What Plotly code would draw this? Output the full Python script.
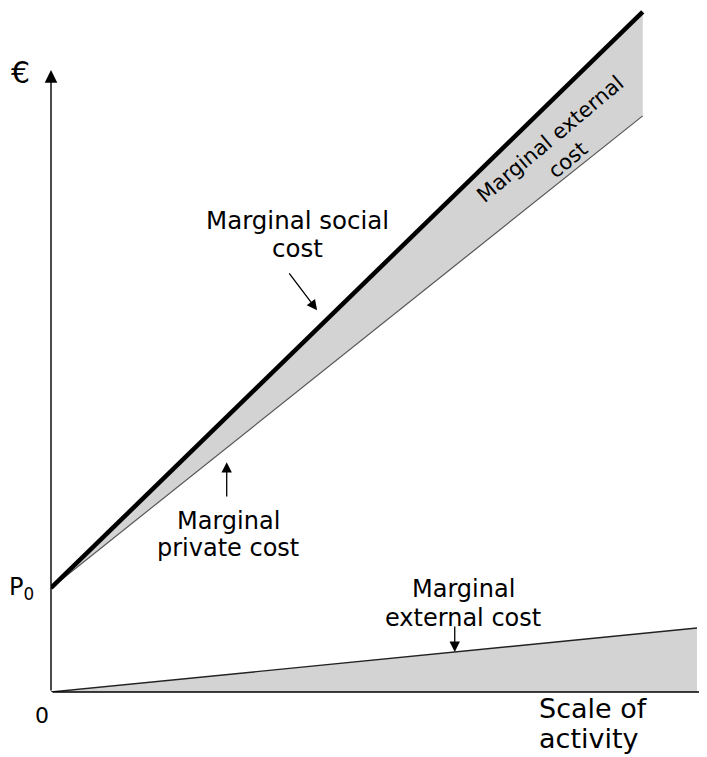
import plotly.graph_objects as go

# scale of activity (x) and cost in € (y)
q = [0, 9.16]
private_cost = [10, 55.4]
social_cost = [10, 65.4]
q_ext = [0, 10]
external_cost = [0, 6.15]

fill_grey = '#d3d3d3'
font_fam = 'DejaVu Sans, Verdana, sans-serif'

fig = go.Figure()

# marginal private cost (thin) then social cost filled down to it
fig.add_trace(go.Scatter(x=q, y=private_cost, mode='lines',
                         line=dict(color='#555555', width=1.2),
                         hoverinfo='skip', showlegend=False))
fig.add_trace(go.Scatter(x=q, y=social_cost, mode='lines',
                         line=dict(color='black', width=4.5),
                         fill='tonexty', fillcolor=fill_grey,
                         hoverinfo='skip', showlegend=False))
# marginal external cost wedge at the bottom
fig.add_trace(go.Scatter(x=q_ext, y=external_cost, mode='lines',
                         line=dict(color='#222222', width=1.4),
                         fill='tozeroy', fillcolor=fill_grey,
                         hoverinfo='skip', showlegend=False))


def label(text, x, y, size, ref='x', xanchor='center', **kw):
    yref = 'y' if ref == 'x' else 'paper'
    fig.add_annotation(x=x, y=y, xref=ref, yref=yref, text=text,
                       showarrow=False, xanchor=xanchor, yanchor='middle',
                       font=dict(family=font_fam, size=size, color='black'),
                       **kw)


def arrow(x0, y0, x1, y1, head=2, size=1.6, width=1.3):
    fig.add_annotation(x=x1, y=y1, ax=x0, ay=y0, xref='x', yref='y',
                       axref='x', ayref='y', text='', showarrow=True,
                       arrowhead=head, arrowsize=size, arrowwidth=width,
                       arrowcolor='black')


# axes with arrow tips
arrow(0, 0, 0, 59.8, head=2, size=1.8, width=1.4)
arrow(0, 0, 10.14, 0, head=2, size=0.9, width=1.4)

# axis labels (outside the plot area, so in paper units)
label('€', -0.047, 0.906, 30, ref='paper')
label('P<sub>0</sub>', -0.023, 0.152, 24, ref='paper', xanchor='right')
label('0', -0.014, -0.034, 22, ref='paper')
label('Scale of', 0.741, -0.0234, 27, ref='paper', xanchor='left')
label('activity', 0.741, -0.0673, 27, ref='paper', xanchor='left')

# curve labels
label('Marginal social', 3.81, 45.38, 24.5)
label('cost', 3.81, 42.69, 24.5)
arrow(3.67, 40.4, 4.12, 36.7)

label('Marginal', 2.74, 16.44, 24)
label('private cost', 2.74, 13.85, 24)
arrow(2.72, 18.65, 2.72, 22.1)

label('Marginal', 6.38, 9.9, 24)
label('external cost', 6.38, 7.12, 24)
arrow(6.25, 6.44, 6.25, 3.85)

label('Marginal external<br>cost', 7.86, 52.2, 21, textangle=-40)

fig.update_xaxes(range=[0, 10.155], visible=False, fixedrange=True)
fig.update_yaxes(range=[0, 65.77], visible=False, fixedrange=True)
# the page body adds an 8px margin, so the figure is 8px smaller each way
fig.update_layout(width=699, height=749,
                  margin=dict(l=43, r=0, t=0, b=65),
                  plot_bgcolor='white', paper_bgcolor='white')

fig.write_html("out.html")
